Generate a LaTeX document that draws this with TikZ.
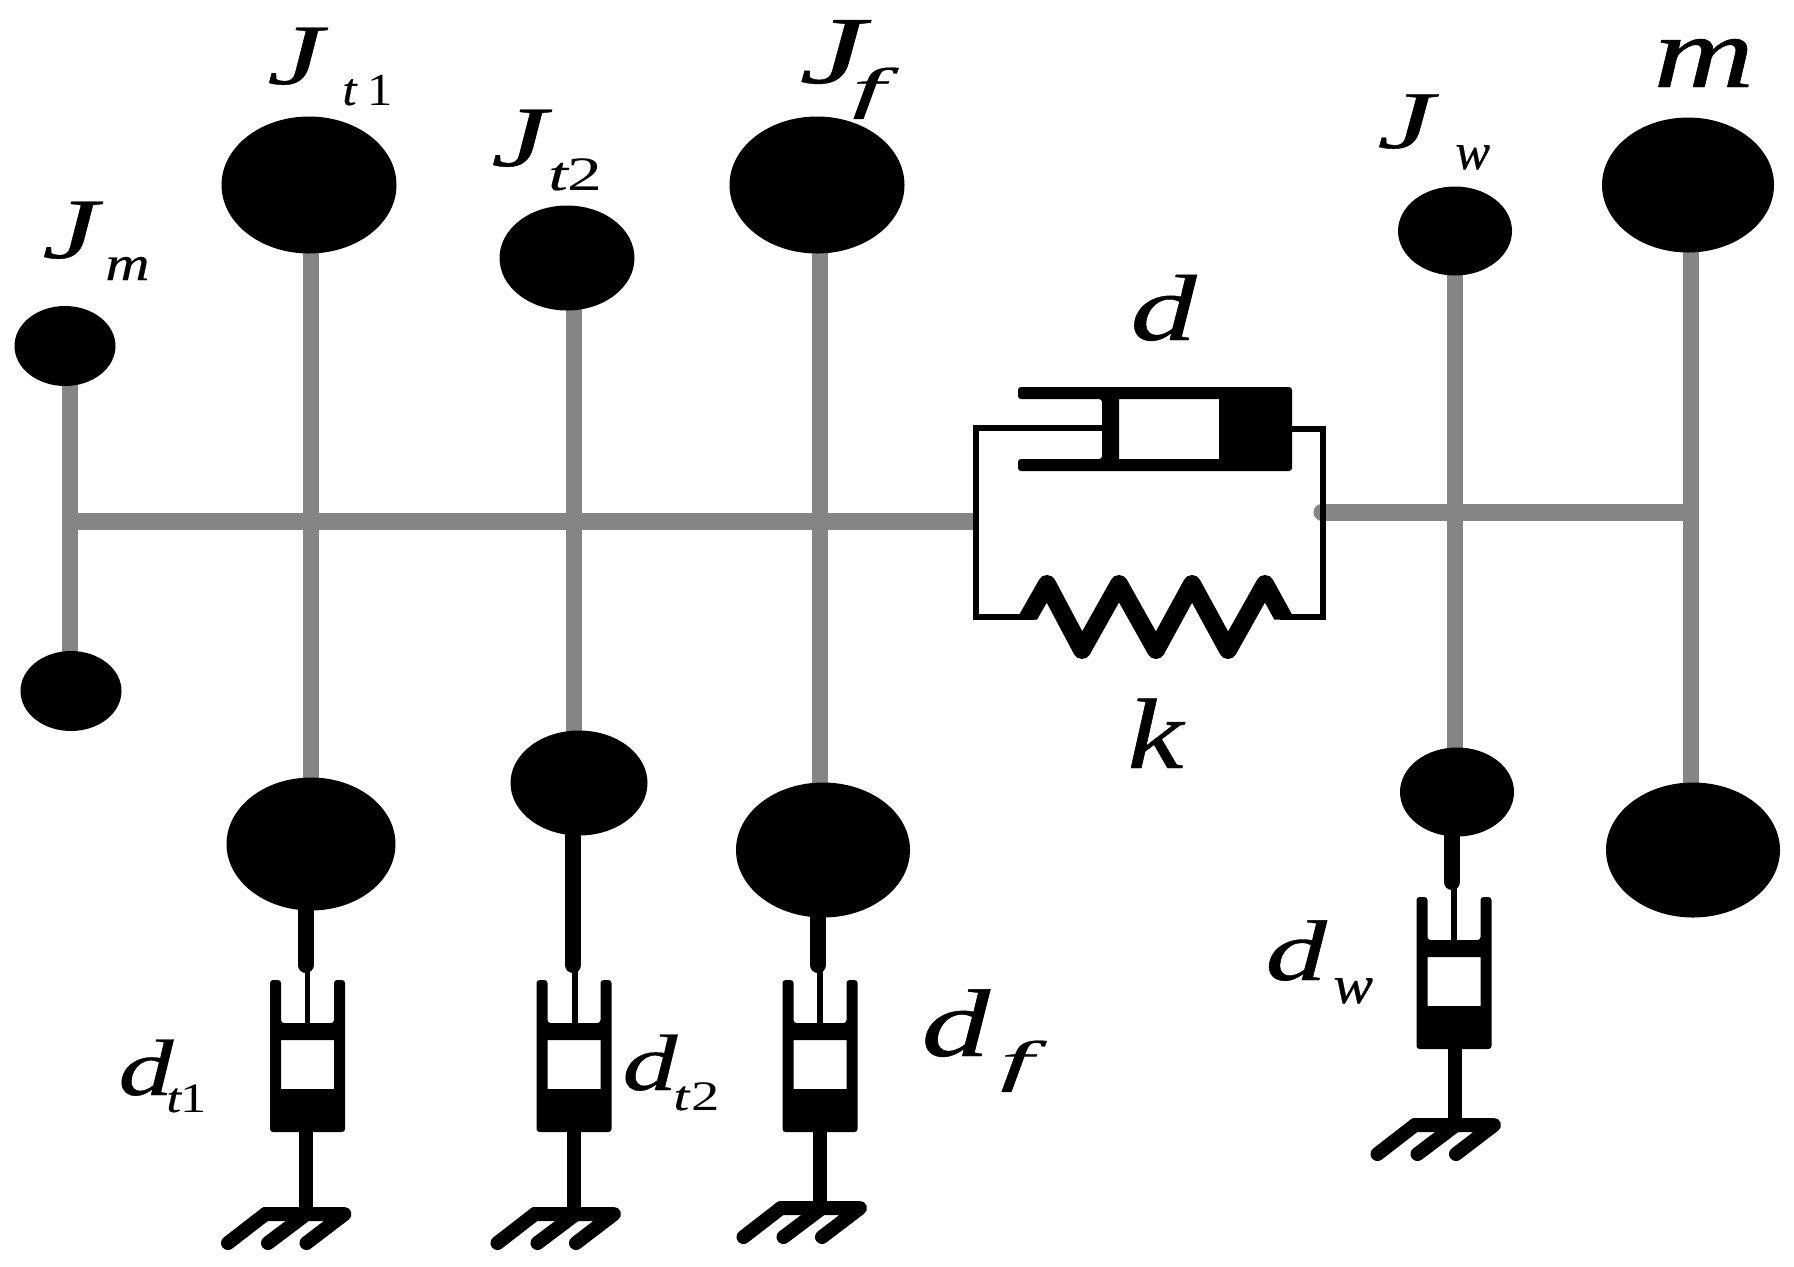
\documentclass[tikz,border=0pt]{standalone}
\usepackage{graphicx}
\usepackage{fontspec}
\setmainfont{Liberation Serif}[ItalicFeatures={FakeBold=0.4}]
\usetikzlibrary{shapes.geometric,backgrounds}
\definecolor{shaft}{HTML}{858585}
% main, size, x-stretch, dx, dy, sub, sub size, sub x-stretch
\newcommand\glyph[3]{\scalebox{#3}[1]{\fontsize{#2}{#2}\selectfont\itshape #1}}
\newcommand\lbl[8]{\rlap{\glyph{#1}{#2}{#3}}\hspace{#4pt}\raisebox{-#5pt}{\glyph{#6}{#7}{#8}}}
\newcommand\dpot[8]{% name, rod x, cylinder centre, top, ground top, source node, stem x, ground x
  \coordinate (#1rod) at (#2,#4-15);
  \coordinate (#1piston) at (#2+2,#4+43);
  \coordinate (#1base) at (#7,#4+152);
  \coordinate (#1gnd) at (#7,#5+7);
  \draw[thickrod] (#2,0 |- #6) -- (#1rod);
  \draw[thinrod] (#2+2,#4-15) -- (#1piston);
  \fill[even odd rule,rounded corners=1.5pt]
    (#3-37.5,#4) -- (#3-37.5,#4+152) -- (#3+37.5,#4+152) -- (#3+37.5,#4)
    -- (#3+26.5,#4) -- (#3+26.5,#4+43) -- (#3-26.5,#4+43) -- (#3-26.5,#4) -- cycle
    [sharp corners] (#3-26.5,#4+60) rectangle (#3+26.5,#4+109);
  \draw[stem] (#1base) -- (#1gnd);
  \draw[hatch] (#8-42,#5+7) -- (#8+37,#5+7) -- (#8-1,#5+36);
  \draw[hatch] (#8-1,#5+7) -- (#8-39.5,#5+36);
  \draw[hatch] (#8-42,#5+7) -- (#8-79.5,#5+36);
}
\tikzset{
  mass/.style={ellipse,fill=black,draw=none,inner sep=0pt,minimum width=#1},
  shaftline/.style={draw=shaft,line width=8pt},
  thickrod/.style={line width=8pt,line cap=round},
  thinrod/.style={line width=2.7pt},
  stem/.style={line width=7pt},
  hatch/.style={line width=7pt,line cap=round,line join=round},
  thinbox/.style={line width=2.6pt,line join=miter},
  spring/.style={line width=9pt,line join=round},
  lab/.style={inner sep=0pt,anchor=base west},
}
\begin{document}
\begin{tikzpicture}[x=.5pt,y=-.5pt]
\useasboundingbox (0,0) rectangle (1794,1266);
% masses
\node[mass=50.5pt,minimum height=40pt]   (jm)  at (65,346) {};
\node[mass=50.5pt,minimum height=40pt]   (jmb) at (71,691) {};
\node[mass=87.5pt,minimum height=68.5pt] (jt1) at (309,185) {};
\node[mass=84.5pt,minimum height=66.5pt] (jt1b) at (311,844) {};
\node[mass=67.5pt,minimum height=52.5pt] (jt2) at (567,258) {};
\node[mass=68.5pt,minimum height=52.5pt] (jt2b) at (579,783) {};
\node[mass=87.5pt,minimum height=68.5pt] (jf)  at (817,185) {};
\node[mass=87pt,minimum height=67.5pt]   (jfb) at (823,850) {};
\node[mass=57pt,minimum height=44.5pt]   (jw)  at (1455,231) {};
\node[mass=57pt,minimum height=44.5pt]   (jwb) at (1457,792) {};
\node[mass=86pt,minimum height=67.5pt]   (mt)  at (1688,185) {};
\node[mass=87pt,minimum height=67.5pt]   (mb)  at (1693,850) {};
% grey shafts
\coordinate (busL) at (70,521);
\coordinate (busR) at (973,521);
\coordinate (outL) at (1322,512);
\coordinate (outR) at (1688,512);
\begin{scope}[on background layer]
\draw[shaftline] (70,0 |- jm) -- (70,0 |- jmb);
\draw[shaftline] (311,0 |- jt1) -- (311,0 |- jt1b);
\draw[shaftline] (574,0 |- jt2) -- (574,0 |- jt2b);
\draw[shaftline] (820,0 |- jf) -- (820,0 |- jfb);
\draw[shaftline] (1455,0 |- jw) -- (1455,0 |- jwb);
\draw[shaftline] (1691,0 |- mt) -- (1691,0 |- mb);
\draw[shaftline,line width=8.5pt] (busL) -- (busR);
\draw[shaftline,line width=8.5pt,line cap=round] (outL) -- (outR);
\end{scope}
% dashpots
\dpot{a}{305.5}{307.5}{980}{1207}{jt1b}{306}{307.5}
\dpot{b}{573}{574}{980}{1207}{jt2b}{574}{577}
\dpot{c}{818}{820}{980}{1201}{jfb}{820}{823}
\dpot{e}{1452}{1454}{897}{1118}{jwb}{1455}{1457}
% parallel damper and spring
\coordinate (tl) at (976,428); \coordinate (bl) at (976,617);
\coordinate (tr) at (1323,429); \coordinate (br) at (1323,617);
\coordinate (sl) at (1035,617); \coordinate (sr) at (1280,617);
\coordinate (pl) at (1104,428); \coordinate (pr) at (1290,429);
\draw[thinbox] (pl) -- (tl) -- (bl) -- (sl);
\draw[thinbox] (pr) -- (tr) -- (br) -- (sr);
\fill[even odd rule,rounded corners=1.5pt]
  (1018,387) -- (1292,387) -- (1292,471) -- (1018,471) -- (1018,459) -- (1102,459)
  -- (1102,399) -- (1018,399) -- cycle
  [sharp corners] (1119,399) rectangle (1219,459);
\begin{scope}
\clip (1000,560) -- (1310,560) -- (1310,619.5) -- (1266,619.5) -- (1266,680)
  -- (1046,680) -- (1046,619.5) -- (1000,619.5) -- cycle;
\draw[spring] (1018,635) -- (1047,584) -- (1082,650) -- (1119,584) -- (1156,650)
  -- (1192,584) -- (1228,650) -- (1265,584) -- (1293,635);
\end{scope}
% labels
\node[lab] (ljm)  at (42,258)   {\lbl{J}{43}{1.46}{31.5}{11}{m}{24.5}{1.25}};
\node[lab] (ljt1) at (267,84)   {\lbl{J}{43}{1.46}{37.5}{10.5}{t\hspace{5pt}\upshape 1}{23}{1.1}};
\node[lab] (ljt2) at (491,166)  {\lbl{J}{43}{1.46}{28.5}{12}{t\upshape 2}{24}{1.45}};
\node[lab] (ljf)  at (799,83)   {\lbl{J}{48}{1.55}{26.5}{12}{f}{28}{2.1}};
\node[lab] (ljw)  at (1377,148) {\lbl{J}{41}{1.55}{39}{10.5}{w}{26}{1}};
\node[lab] (lm)   at (1653,87)  {\glyph{m}{51}{1.37}};
\node[lab] (ld)   at (1130,340) {\glyph{d}{47}{1.41}};
\node[lab] (lk)   at (1127,768) {\glyph{k}{50}{1.26}};
\node[lab] (ldt1) at (118,1095) {\lbl{d}{40}{1.375}{24}{8.5}{t\upshape 1}{21}{1.25}};
\node[lab] (ldt2) at (622,1090) {\lbl{d}{40}{1.375}{25.5}{10}{t\hspace{1pt}\upshape 2}{21}{1.35}};
\node[lab] (ldf)  at (921,1056) {\lbl{d}{48}{1.43}{39.5}{12}{f}{28}{2.1}};
\node[lab] (ldw)  at (1265,980) {\lbl{d}{43}{1.43}{34}{11.5}{w}{27}{1.1}};
\end{tikzpicture}
\end{document}
